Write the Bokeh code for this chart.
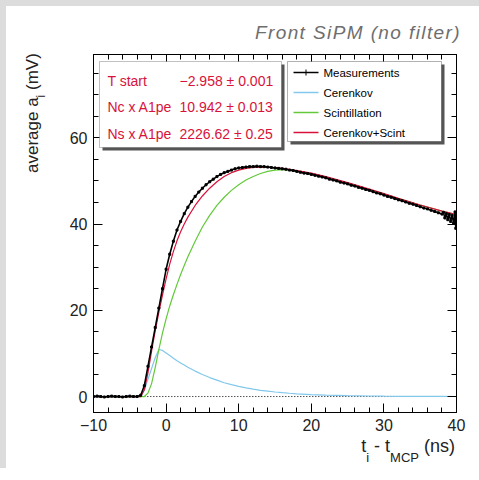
from bokeh.plotting import figure
from bokeh.models import (Label, BoxAnnotation, LinearAxis, SingleIntervalTicker,
                          CustomJSTickFormatter, Range1d, Div)
from bokeh.layouts import column, row
from bokeh.embed import file_html
from bokeh.resources import INLINE

# ---------------- data ----------------
t_meas = [-10.0, -9.5, -9.0, -8.5, -8.0, -7.5, -7.0, -6.5, -6.0, -5.5, -5.0, -4.5, -4.0,
          -3.5, -3.0, -2.5, -2.0, -1.5, -1.0, -0.5, 0.0, 0.5, 1.0, 1.5, 2.0, 2.5, 3.0,
          3.5, 4.0, 4.5, 5.0, 5.5, 6.0, 6.5, 7.0, 7.5, 8.0, 8.5, 9.0, 9.5, 10.0, 10.5,
          11.0, 11.5, 12.0, 12.5, 13.0, 13.5, 14.0, 14.5, 15.0, 15.5, 16.0, 16.5, 17.0,
          17.5, 18.0, 18.5, 19.0, 19.5, 20.0, 20.5, 21.0, 21.5, 22.0, 22.5, 23.0, 23.5,
          24.0, 24.5, 25.0, 25.5, 26.0, 26.5, 27.0, 27.5, 28.0, 28.5, 29.0, 29.5, 30.0,
          30.5, 31.0, 31.5, 32.0, 32.5, 33.0, 33.5, 34.0, 34.5, 35.0, 35.5, 36.0, 36.5,
          37.0, 37.5, 38.0, 38.2, 38.4, 38.6, 38.8, 39.0, 39.2, 39.4, 39.6, 39.8, 39.9, 40.0]
v_meas = [0.0, 0.1, 0.0, -0.1, 0.0, 0.1, 0.0, 0.0, -0.1, 0.0, 0.1, 0.0, 0.0,
          0.3, 2.5, 7.0, 11.5, 16.0, 20.5, 25.0, 29.5, 33.0, 36.0, 38.6, 40.6, 42.4, 43.9,
          45.2, 46.4, 47.4, 48.3, 49.1, 49.8, 50.4, 51.0, 51.5, 51.9, 52.2, 52.5, 52.8, 53.0, 53.1,
          53.2, 53.3, 53.3, 53.4, 53.3, 53.3, 53.2, 53.1, 53.0, 52.9, 52.8, 52.7, 52.5,
          52.4, 52.2, 52.0, 51.8, 51.7, 51.5, 51.3, 51.1, 50.9, 50.7, 50.4, 50.2, 50.0,
          49.7, 49.5, 49.3, 49.0, 48.8, 48.5, 48.3, 48.0, 47.8, 47.5, 47.2, 47.0, 46.7,
          46.4, 46.2, 45.9, 45.6, 45.4, 45.1, 44.8, 44.6, 44.3, 44.0, 43.7, 43.5, 43.2,
          42.9, 42.6, 42.3, 42.7, 41.4, 42.4, 41.0, 42.2, 40.6, 42.0, 40.2, 42.8, 39.0, 41.3]

t_fit = [-10, -3.5, -3, -2.5, -2, -1.5, -1, -0.5, 0, 0.5, 1, 1.5, 2, 2.5, 3, 4, 5, 6, 7, 8,
         9, 10, 11, 12, 13, 14, 15, 16, 17, 18, 20, 22, 25, 28, 30, 32, 35, 38, 40]
cerenkov = [0, 0, 1.5, 4.0, 6.5, 9.0, 10.9, 10.7, 10.1, 9.5, 8.9, 8.3, 7.8, 7.3, 6.8, 5.9,
            5.1, 4.4, 3.8, 3.2, 2.75, 2.35, 2.0, 1.7, 1.45, 1.25, 1.05, 0.9, 0.76, 0.64,
            0.46, 0.33, 0.2, 0.12, 0.08, 0.06, 0.03, 0.02, 0.01]
scint = [0, 0, 0, 0.8, 3.0, 6.7, 10.9, 14.7, 18.0, 21.0, 23.6, 26.0, 28.3, 30.4, 32.4, 36.0,
         39.3, 42.0, 44.3, 46.2, 47.8, 49.1, 50.2, 51.0, 51.7, 52.2, 52.5, 52.6, 52.5, 52.3,
         51.7, 50.9, 49.5, 48.0, 47.0, 45.9, 44.4, 43.0, 42.2]
total = [0, 0, 1.5, 5.5, 10.5, 15.2, 19.5, 23.5, 27.3, 30.7, 33.6, 36.1, 38.2, 40.0, 41.6,
         44.3, 46.5, 48.3, 49.8, 51.0, 51.9, 52.5, 52.9, 53.1, 53.2, 53.2, 53.1, 52.9,
         52.7, 52.4, 51.8, 51.0, 49.6, 48.1, 47.05, 45.95, 44.4, 43.0, 42.2]

zero_line_t = [-3, 40]
zero_line_v = [0, 0]

stats_names = ["T start", "Nc x A1pe", "Ns x A1pe"]
stats_values = ["\u22122.958 \u00b1 0.001", "10.942 \u00b1 0.013", "2226.62 \u00b1 0.25"]
legend_names = ["Measurements", "Cerenkov", "Scintillation", "Cerenkov+Scint"]

title_text = "Front SiPM (no filter)"
xtitle_html = ("t<span style=\"font-size:13px;position:relative;top:10px;\">i</span> - t"
               "<span style=\"font-size:13px;position:relative;top:10px;\">MCP</span> (ns)")
ytitle_html = "average a<span style=\"font-size:12px;position:relative;top:7px;\">i</span> (mV)"

# ---------------- layout (window pixels) ----------------
W = 479
TOP_H, MID_H, BOT_H, LEFT_W = 48, 390, 30, 50
BOT_TOP = TOP_H + MID_H
FL, FR, FT, FB = 93, 456, 54, 412
X0, X1, Y0, Y1 = -10.0, 40.0, -3.7, 79.3
GREY = "#dcdcdc"
FONT = "Liberation Sans"
BLUE = "#82c8ec"
GREEN = "#62c93a"
RED = "#d8123a"


def X(px):
    return X0 + (px - FL) * (X1 - X0) / (FR - FL)


def Y(py):
    return Y1 - (py - FT) * (Y1 - Y0) / (FB - FT)


def base_top(baseline, fs, lh):
    # top of a line box (line-height lh) whose text baseline sits at `baseline`
    return baseline - ((lh - 1.117 * fs) / 2 + 0.905 * fs)


def panel(w, h, inner):
    return (f'<div style="position:relative;width:{w}px;height:{h}px;'
            f'background:#ffffff;margin:0;padding:0;">'
            f'<div style="position:absolute;left:0;top:0;width:6px;height:{h}px;'
            f'background:{GREY};"></div>{inner}</div>')


# ---- top strip: grey edge + italic title ----
top_inner = (f'<div style="position:absolute;left:0;top:0;width:{W}px;height:6px;'
             f'background:{GREY};"></div>'
             f'<div style="position:absolute;right:18px;top:{base_top(39.5, 19, 19):.1f}px;'
             f"font-family:'{FONT}';font-style:italic;font-size:19px;line-height:19px;"
             f'letter-spacing:1.4px;color:#6e6e6e;white-space:nowrap;">{title_text}</div>')
top = Div(text=panel(W, TOP_H, top_inner), width=W, height=TOP_H, margin=0,
          disable_math=True)

# ---- left strip: rotated y title ----
left_inner = (f'<div style="position:absolute;left:{38 - 0.8465 * 17:.1f}px;'
              f'top:{173 - TOP_H}px;transform:rotate(-90deg);transform-origin:0 0;'
              f"font-family:'{FONT}';font-size:17px;line-height:17px;color:#222222;"
              f'white-space:nowrap;">{ytitle_html}</div>')
left = Div(text=panel(LEFT_W, MID_H, left_inner), width=LEFT_W, height=MID_H, margin=0,
           disable_math=True)

# ---- bottom strip: x title ----
bot_inner = (f'<div style="position:absolute;right:{W - 455}px;'
             f'top:{base_top(452 - BOT_TOP, 18, 12):.1f}px;'
             f"font-family:'{FONT}';font-size:18px;line-height:12px;color:#222222;"
             f'white-space:nowrap;">{xtitle_html}</div>')
bot = Div(text=panel(W, BOT_H, bot_inner), width=W, height=BOT_H, margin=0,
          disable_math=True)

# ---- main plot ----
p = figure(width=W - LEFT_W, height=MID_H, x_range=Range1d(X0, X1), y_range=Range1d(Y0, Y1),
           output_backend="svg", toolbar_location=None, title=None,
           min_border_left=FL - LEFT_W, min_border_right=W - FR, min_border_top=FT - TOP_H,
           min_border_bottom=BOT_TOP - FB, x_axis_type=None, y_axis_type=None)
p.background_fill_color = "white"
p.border_fill_color = "white"
p.outline_line_color = "black"
p.outline_line_width = 1
p.xgrid.visible = False
p.ygrid.visible = False

xt = SingleIntervalTicker(interval=10, num_minor_ticks=5)
yt = SingleIntervalTicker(interval=20, num_minor_ticks=4)
blank = CustomJSTickFormatter(code="return ''")


def style_axis(ax, labels=True):
    ax.major_tick_in = 9
    ax.major_tick_out = 0
    ax.minor_tick_in = 5
    ax.minor_tick_out = 0
    ax.axis_line_color = "black"
    ax.major_tick_line_color = "black"
    ax.minor_tick_line_color = "black"
    ax.major_label_text_font = FONT
    ax.major_label_text_font_size = "16px"
    ax.major_label_text_color = "#222222"
    if not labels:
        ax.formatter = blank
        ax.major_label_text_font_size = "1px"
        ax.major_label_standoff = 0


xb = LinearAxis(ticker=xt)
style_axis(xb)
xb.major_label_standoff = 6
xb.major_label_overrides = {-10: "\u221210"}
p.add_layout(xb, "below")
yl = LinearAxis(ticker=yt)
style_axis(yl)
yl.major_label_standoff = 6
p.add_layout(yl, "left")
xa = LinearAxis(ticker=xt)
style_axis(xa, labels=False)
p.add_layout(xa, "above")
yr = LinearAxis(ticker=yt)
style_axis(yr, labels=False)
p.add_layout(yr, "right")

# curves
p.line(zero_line_t, zero_line_v, line_color="black", line_width=1, line_dash="1 2")
p.line(t_fit, cerenkov, line_color=BLUE, line_width=1.2)
p.line(t_fit, scint, line_color=GREEN, line_width=1.2)
p.line(t_fit, total, line_color=RED, line_width=1.2)
p.line(t_meas, v_meas, line_color="black", line_width=1.6)
p.scatter(t_meas, v_meas, marker="square", size=2, color="black")

# stats box
p.add_layout(BoxAnnotation(left=X(102), right=X(284), top=Y(64), bottom=Y(150),
                           fill_color="#555555", fill_alpha=1, line_alpha=0, level="annotation"))
p.add_layout(BoxAnnotation(left=X(99), right=X(281), top=Y(61), bottom=Y(147),
                           fill_color="white", fill_alpha=1, line_color="#333333",
                           line_width=1, level="annotation"))
for i, (n, v) in enumerate(zip(stats_names, stats_values)):
    yb = 80 + i * 26.5
    p.add_layout(Label(x=X(107), y=Y(yb), text=n, text_font=FONT, text_font_size="14px",
                       text_color=RED, text_baseline="alphabetic", level="overlay"))
    p.add_layout(Label(x=X(179), y=Y(yb), text=v, text_font=FONT, text_font_size="14px",
                       text_color=RED, text_baseline="alphabetic", level="overlay"))

# legend
p.add_layout(BoxAnnotation(left=X(290), right=X(444), top=Y(64), bottom=Y(144),
                           fill_color="#555555", fill_alpha=1, line_alpha=0, level="annotation"))
p.add_layout(BoxAnnotation(left=X(287), right=X(441), top=Y(61), bottom=Y(141),
                           fill_color="white", fill_alpha=1, line_color="black",
                           line_width=1, level="annotation"))
leg_colors = ["black", BLUE, GREEN, RED]
for i, (n, c) in enumerate(zip(legend_names, leg_colors)):
    yc = 72 + i * 20
    p.line([X(293), X(318)], [Y(yc), Y(yc)], line_color=c, line_width=1.5, level="overlay")
    p.add_layout(Label(x=X(323), y=Y(yc), text=n, text_font=FONT, text_font_size="11.5px",
                       text_color="black", text_baseline="middle", level="overlay"))
p.line([X(305.5), X(305.5)], [Y(69), Y(75)], line_color="black", line_width=1, level="overlay")

layout = column(top, row(left, p, spacing=0), bot, spacing=0)
open("out.html", "w").write(file_html(layout, INLINE))
